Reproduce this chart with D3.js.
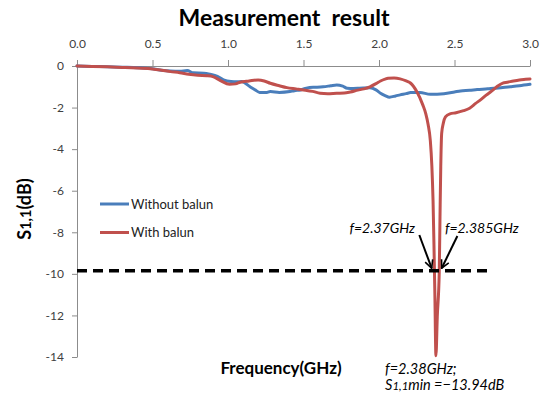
<!DOCTYPE html>
<html><head><meta charset="utf-8">
<script src="https://cdn.jsdelivr.net/npm/d3@7"></script>
<style>
body{margin:0;background:#fff;}
svg{display:block;font-family:Lato,"Open Sans",sans-serif;}
</style>
</head><body>
<svg id="c" width="546" height="394"></svg>
<script>
// ---- data ----
const xTicks = [0, 0.5, 1.0, 1.5, 2.0, 2.5, 3.0];
const yTicks = [0, -2, -4, -6, -8, -10, -12, -14];
const seriesNames = ["Without balun", "With balun"];

const freqBlue = [0, 0.1, 0.2, 0.3, 0.4, 0.5, 0.56, 0.62, 0.68, 0.73, 0.77, 0.84, 0.88, 0.93, 0.97, 1.02, 1.06, 1.09, 1.146, 1.18, 1.21, 1.25, 1.28, 1.34, 1.41, 1.44, 1.48, 1.54, 1.58, 1.63, 1.68, 1.72, 1.76, 1.79, 1.83, 1.87, 1.94, 1.98, 2.01, 2.04, 2.07, 2.11, 2.14, 2.18, 2.21, 2.27, 2.34, 2.43, 2.5, 2.54, 2.6, 2.65, 2.72, 2.76, 2.82, 2.87, 2.93, 3.0];
const s11Blue  = [0, -0.02, -0.04, -0.06, -0.08, -0.13, -0.2, -0.24, -0.25, -0.22, -0.33, -0.35, -0.4, -0.5, -0.67, -0.75, -0.76, -0.75, -1.0, -1.15, -1.27, -1.28, -1.23, -1.27, -1.23, -1.19, -1.15, -1.03, -1.02, -1.0, -0.95, -0.91, -0.97, -1.07, -1.08, -1.07, -1.05, -1.15, -1.31, -1.42, -1.5, -1.44, -1.39, -1.33, -1.28, -1.27, -1.36, -1.33, -1.25, -1.2, -1.17, -1.13, -1.1, -1.07, -1.04, -1.0, -0.95, -0.88];

const freqRed = [0, 0.1, 0.2, 0.3, 0.4, 0.5, 0.56, 0.62, 0.68, 0.74, 0.8, 0.86, 0.9, 0.95, 1.01, 1.05, 1.08, 1.14, 1.2, 1.24, 1.28, 1.34, 1.39, 1.45, 1.5, 1.56, 1.61, 1.66, 1.72, 1.77, 1.81, 1.86, 1.9, 1.94, 1.98, 2.01, 2.04, 2.06, 2.1, 2.14, 2.18, 2.21, 2.25, 2.29, 2.31, 2.325, 2.34, 2.35, 2.358, 2.364, 2.37, 2.377, 2.386, 2.399, 2.404, 2.409, 2.415, 2.426, 2.44, 2.47, 2.51, 2.56, 2.6, 2.64, 2.67, 2.71, 2.74, 2.78, 2.82, 2.85, 2.89, 2.93, 2.97, 3.0];
const s11Red  = [0, -0.02, -0.04, -0.07, -0.1, -0.14, -0.2, -0.27, -0.32, -0.4, -0.45, -0.47, -0.51, -0.7, -0.88, -0.86, -0.78, -0.72, -0.67, -0.72, -0.83, -0.95, -1.04, -1.1, -1.15, -1.22, -1.31, -1.33, -1.31, -1.3, -1.25, -1.16, -1.1, -1.0, -0.85, -0.72, -0.63, -0.59, -0.58, -0.62, -0.72, -0.83, -1.23, -1.87, -2.3, -2.8, -3.6, -4.8, -6.5, -8.6, -11.0, -13.94, -12.06, -9.9, -7.25, -4.84, -3.24, -2.75, -2.45, -2.3, -2.25, -2.15, -2.03, -1.8, -1.64, -1.4, -1.24, -1.0, -0.82, -0.78, -0.72, -0.67, -0.64, -0.62];

const thresholdFreq = [0, 2.735];
const thresholdS11 = [-9.85, -9.85];
const arrowFromFreq = [2.267, 2.519];
const arrowFromS11 = [-8.13, -8.18];
const arrowToFreq = [2.349, 2.415];
const arrowToS11 = [-9.73, -9.73];

// ---- chart ----
const svg = d3.select("#c");
const x = d3.scaleLinear().domain([0, 3]).range([77, 530]);
const y = d3.scaleLinear().domain([-14, 0]).range([357, 66]);
const colors = ["#4a7ebb", "#c0504d"];

// title
svg.append("text").attr("x", 284).attr("y", 26).attr("text-anchor", "middle")
  .attr("font-size", 23).attr("font-weight", "bold").attr("fill", "#000")
  .style("white-space", "pre").text("Measurement  result");

// axes
const xAxis = svg.append("g").attr("transform", "translate(0,66)")
  .call(d3.axisTop(x).tickValues(xTicks).tickFormat(d3.format(".1f")).tickSize(6).tickSizeOuter(0).tickPadding(12));
const yAxis = svg.append("g").attr("transform", "translate(77,0)")
  .call(d3.axisLeft(y).tickValues(yTicks).tickFormat(d => String(d)).tickSize(5).tickSizeOuter(0).tickPadding(8));
[xAxis, yAxis].forEach(g => {
  g.selectAll("path,line").attr("stroke", "#8c8c8c").attr("stroke-width", 1);
  g.selectAll("text").attr("fill", "#404040").attr("font-size", 12).attr("font-family", "Lato,sans-serif");
});

// series
const line = d3.line().x(d => x(d[0])).y(d => y(d[1])).curve(d3.curveMonotoneX);
const series = [d3.zip(freqBlue, s11Blue), d3.zip(freqRed, s11Red)];
svg.append("g").selectAll("path").data(series).join("path")
  .attr("d", line).attr("fill", "none")
  .attr("stroke", (d, i) => colors[i]).attr("stroke-width", 3)
  .attr("stroke-linejoin", "round").attr("stroke-linecap", "round");

// threshold dashed line
svg.append("path").datum(d3.zip(thresholdFreq, thresholdS11))
  .attr("d", d3.line().x(d => x(d[0])).y(d => y(d[1])))
  .attr("fill", "none").attr("stroke", "#000").attr("stroke-width", 3.5)
  .attr("stroke-dasharray", "10,6");

// arrows
svg.append("defs").append("marker").attr("id", "ah")
  .attr("viewBox", "0 0 10 10").attr("refX", 9).attr("refY", 5)
  .attr("markerWidth", 5).attr("markerHeight", 5).attr("orient", "auto")
  .append("path").attr("d", "M1,1 L9,5 L1,9").attr("fill", "none").attr("stroke", "#000").attr("stroke-width", 1.6);
svg.append("g").selectAll("line").data(d3.range(2)).join("line")
  .attr("x1", i => x(arrowFromFreq[i])).attr("y1", i => y(arrowFromS11[i]))
  .attr("x2", i => x(arrowToFreq[i])).attr("y2", i => y(arrowToS11[i]))
  .attr("stroke", "#000").attr("stroke-width", 2).attr("marker-end", "url(#ah)");

// annotations
const ann = svg.append("g").attr("font-style", "italic").attr("font-size", 14).attr("fill", "#000");
ann.append("text").attr("x", 415).attr("y", 233).attr("text-anchor", "end").text("f=2.37GHz");
ann.append("text").attr("x", 445).attr("y", 233).text("f=2.385GHz");
ann.append("text").attr("x", 385).attr("y", 374).attr("font-size", 14.5).text("f=2.38GHz;");
const t2 = ann.append("text").attr("x", 385).attr("y", 390).attr("font-size", 14.5);
t2.append("tspan").text("S");
t2.append("tspan").attr("font-size", 11.5).text("1,1");
t2.append("tspan").text("min =−13.94dB");

// axis titles
svg.append("text").attr("x", 281).attr("y", 374).attr("text-anchor", "middle")
  .attr("font-size", 17).attr("font-weight", "bold").attr("fill", "#000").text("Frequency(GHz)");
const yl = svg.append("text").attr("transform", "translate(31,209) rotate(-90)").attr("text-anchor", "middle")
  .attr("font-size", 18).attr("font-weight", "bold").attr("fill", "#000");
yl.append("tspan").text("S");
yl.append("tspan").attr("font-size", 14.5).text("1,1");
yl.append("tspan").text("(dB)");

// legend
const lg = svg.append("g").selectAll("g").data(seriesNames).join("g")
  .attr("transform", (d, i) => `translate(100,${204 + i * 28.5})`);
lg.append("line").attr("x1", 0).attr("x2", 29).attr("stroke", (d, i) => colors[i]).attr("stroke-width", 3);
lg.append("text").attr("x", 31).attr("dy", "0.35em").attr("font-size", 13).attr("fill", "#222").text(d => d);
</script>
</body></html>
